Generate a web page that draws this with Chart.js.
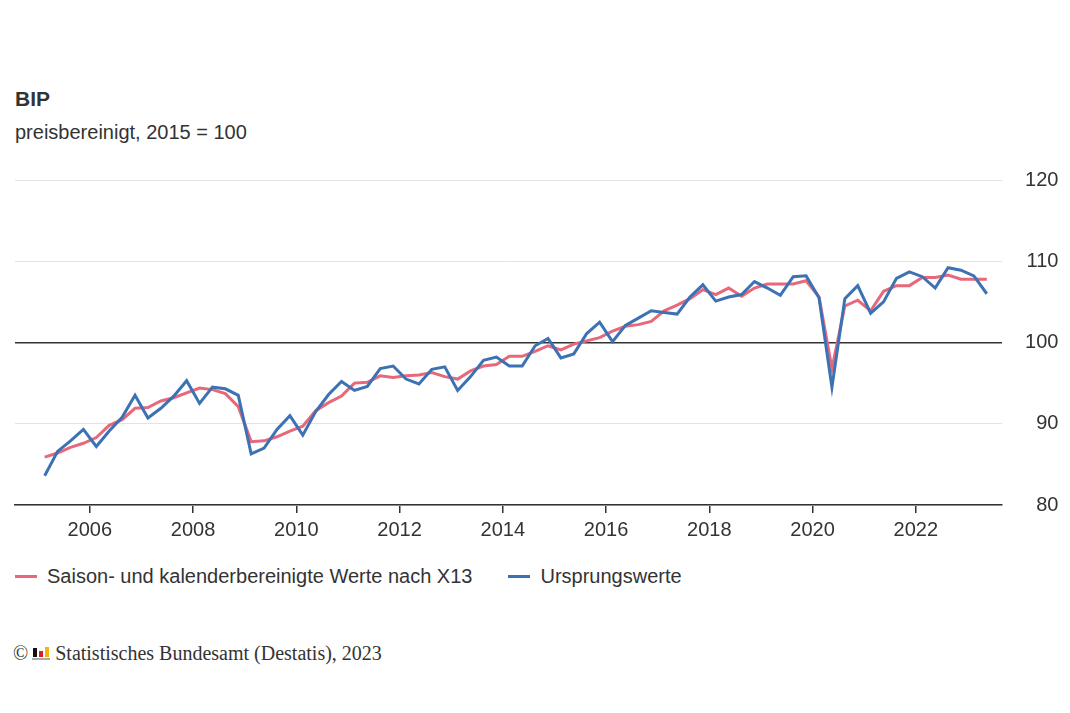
<!DOCTYPE html>
<html>
<head>
<meta charset="utf-8">
<script src="https://cdn.jsdelivr.net/npm/chart.js@4"></script>
<style>
  body { margin: 0; width: 1070px; height: 713px; background: #fff; position: relative; overflow: hidden;
         font-family: 'Liberation Sans', Arial, sans-serif; color: #333; }
  .title { position: absolute; left: 15px; top: 87px; font-size: 21px; font-weight: bold; line-height: 24px; }
  .subtitle { position: absolute; left: 15px; top: 120px; font-size: 20px; line-height: 24px; }
  #chart-wrapper { position: absolute; left: 0; top: 150px; width: 1070px; height: 399px; }
  #legend { position: absolute; left: 15px; top: 564px; font-size: 20px; line-height: 24px; display: flex; }
  #legend .item { display: flex; align-items: center; margin-right: 36px; }
  #legend .swatch { width: 22px; height: 3px; margin-right: 10px; }
  .footer { position: absolute; left: 13px; top: 641px; font-family: 'Liberation Serif', 'Times New Roman', serif;
            font-size: 20px; line-height: 24px; color: #333; }
  .logo { display: inline-block; position: relative; width: 18px; height: 13px; margin: 0 5px 0 4px; }
  .logo span { position: absolute; bottom: 3px; }
</style>
</head>
<body>
<div class="title">BIP</div>
<div class="subtitle">preisbereinigt, 2015 = 100</div>
<div id="chart-wrapper"><canvas id="chart"></canvas></div>
<div id="legend"></div>
<div class="footer">©<span class="logo"><span style="left:1px;width:4px;height:9px;background:#111"></span><span style="left:7px;width:4px;height:6px;background:#d81e2c"></span><span style="left:13px;width:4px;height:10px;background:#f2b705"></span><span style="left:0;bottom:0;width:18px;height:2px;background:#aaa"></span></span>Statistisches Bundesamt (Destatis), 2023</div>

<script>
// quarterly index values, 2005 Q1 .. 2023 Q2
var saisonbereinigt = [
  85.9, 86.4, 87.1, 87.6, 88.3, 89.8, 90.5, 91.9, 92.0, 92.8, 93.2, 93.8,
  94.4, 94.2, 93.7, 92.1, 87.8, 87.9, 88.4, 89.1, 89.7, 91.6, 92.6, 93.4,
  95.0, 95.1, 95.9, 95.7, 95.9, 96.0, 96.3, 95.8, 95.5, 96.5, 97.1, 97.3,
  98.3, 98.3, 98.9, 99.6, 99.1, 99.8, 100.2, 100.6, 101.4, 102.0, 102.2, 102.6,
  103.9, 104.6, 105.4, 106.5, 105.9, 106.7, 105.7, 106.7, 107.2, 107.2, 107.2, 107.6,
  105.6, 96.8, 104.5, 105.2, 103.9, 106.3, 107.0, 107.0, 108.0, 108.0, 108.3, 107.8,
  107.8, 107.8
];
var ursprungswerte = [
  83.6, 86.6, 87.9, 89.3, 87.2, 89.1, 90.8, 93.5, 90.7, 91.9, 93.4, 95.3,
  92.5, 94.5, 94.3, 93.5, 86.3, 87.0, 89.3, 91.0, 88.6, 91.5, 93.6, 95.2,
  94.1, 94.6, 96.8, 97.1, 95.5, 94.9, 96.7, 97.0, 94.1, 95.8, 97.8, 98.2,
  97.1, 97.1, 99.6, 100.5, 98.1, 98.6, 101.1, 102.5, 100.1, 102.1, 103.0, 103.9,
  103.7, 103.5, 105.6, 107.1, 105.1, 105.6, 105.9, 107.5, 106.7, 105.8, 108.1, 108.2,
  105.5, 94.5, 105.4, 107.0, 103.6, 105.0, 107.9, 108.7, 108.1, 106.7, 109.2, 108.9,
  108.2, 106.0
];
var xTicks = [2006, 2008, 2010, 2012, 2014, 2016, 2018, 2020, 2022];
var yTicks = [80, 90, 100, 110, 120];

var quarters = [];
for (var y = 2005; y <= 2023; y++) {
  for (var q = 1; q <= 4; q++) quarters.push(y + '-Q' + q);
}
quarters = quarters.slice(0, saisonbereinigt.length);

// place each quarter in the middle of its three months
function quarterPos(label) {
  var parts = label.split('-Q');
  return Number(parts[0]) + (Number(parts[1]) - 0.5) / 4;
}

function toPoints(values) {
  return values.map(function(v, i) { return { x: quarterPos(quarters[i]), y: v }; });
}

Chart.defaults.font.family = "'Liberation Sans', Arial, sans-serif";
Chart.defaults.font.size = 20;
Chart.defaults.color = '#333';

var ctx = document.getElementById('chart');
var chart = new Chart(ctx, {
  type: 'line',
  data: {
    datasets: [{
      label: 'Saison- und kalenderbereinigte Werte nach X13',
      data: toPoints(saisonbereinigt),
      borderColor: '#e7687a',
      borderWidth: 3,
      pointRadius: 0,
      order: 2
    }, {
      label: 'Ursprungswerte',
      data: toPoints(ursprungswerte),
      borderColor: '#3c72b4',
      borderWidth: 3,
      pointRadius: 0,
      order: 1
    }]
  },
  options: {
    responsive: true,
    maintainAspectRatio: false,
    animation: false,
    layout: { padding: { top: 30, left: 15, right: 11.6, bottom: 2 } },
    plugins: {
      legend: { display: false },
      tooltip: { enabled: false }
    },
    scales: {
      x: {
        type: 'linear',
        min: 2004.55,
        max: 2023.67,
        afterBuildTicks: function(axis) {
          axis.ticks = xTicks.map(function(v) { return { value: v }; });
        },
        ticks: {
          autoSkip: false,
          maxRotation: 0,
          padding: 5,
          callback: function(value) { return String(value); }
        },
        grid: { drawOnChartArea: false, tickLength: 8, color: '#333', lineWidth: 1.5 },
        border: { color: '#333', width: 1.5 }
      },
      y: {
        position: 'right',
        min: 80,
        max: 120,
        afterBuildTicks: function(axis) {
          axis.ticks = yTicks.map(function(v) { return { value: v }; });
        },
        ticks: { crossAlign: 'far', padding: 11.5 },
        grid: {
          drawTicks: false,
          color: function(c) { return c.tick && c.tick.value === 100 ? '#333' : '#e3e3e3'; },
          lineWidth: function(c) { return c.tick && c.tick.value === 100 ? 1.5 : 1; }
        },
        border: { display: false }
      }
    }
  }
});

// legend from the chart's own datasets
var legend = document.getElementById('legend');
chart.data.datasets.forEach(function(ds) {
  var item = document.createElement('div');
  item.className = 'item';
  item.innerHTML = '<span class="swatch" style="background:' + ds.borderColor + '"></span>' + ds.label;
  legend.appendChild(item);
});
</script>
</body>
</html>
